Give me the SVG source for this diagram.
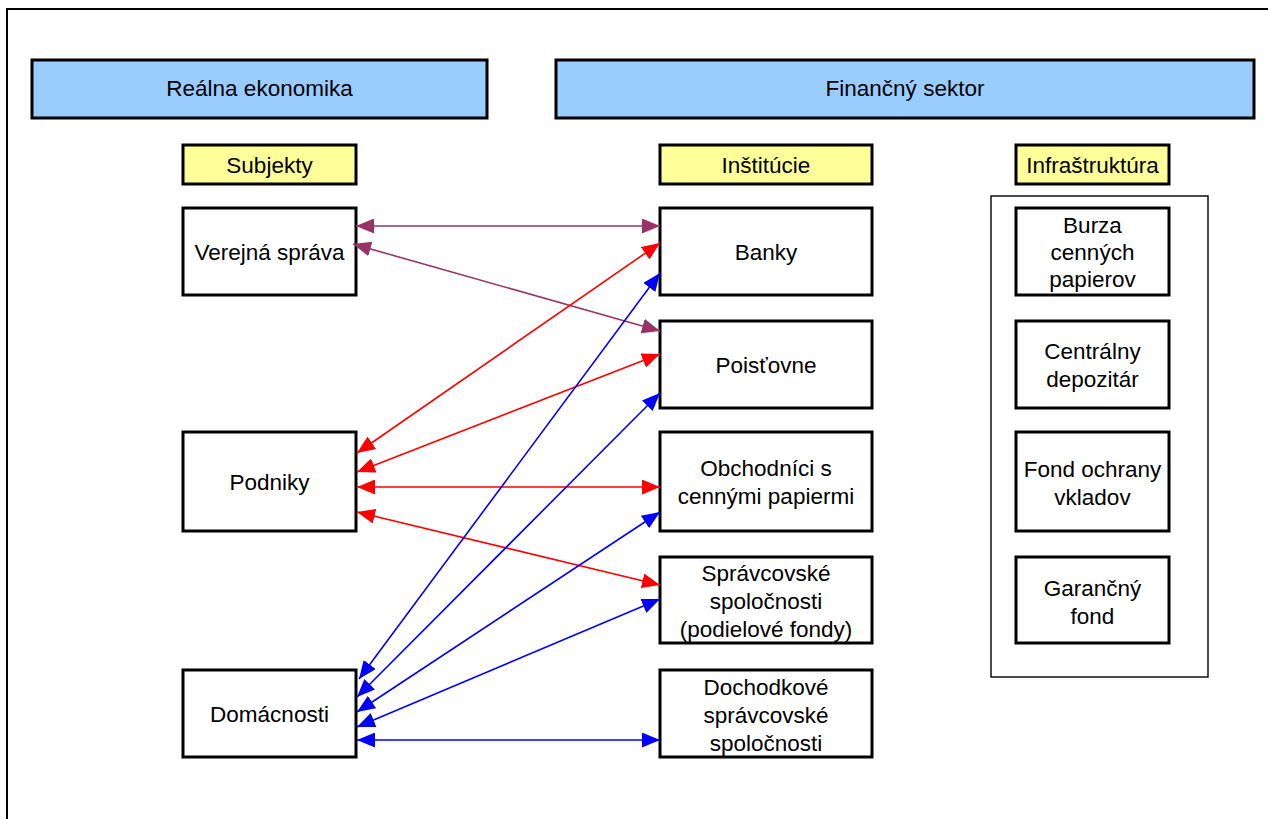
<svg xmlns="http://www.w3.org/2000/svg" width="1268" height="819" viewBox="0 0 1268 819">
  <style>
    text { font-family: "Liberation Sans", Arial, sans-serif; font-size: 22.5px; fill: #000; text-anchor: middle; }
    .frame { fill: none; stroke: #000; stroke-width: 2; }
    .header { fill: #99CCFF; stroke: #000; stroke-width: 3; }
    .tag { fill: #FFFF99; stroke: #000; stroke-width: 3; }
    .box { fill: #fff; stroke: #000; stroke-width: 3; }
    .group { fill: none; stroke: #000; stroke-width: 1.4; }
    .link { fill: none; stroke-width: 1.6; }
    .purple { stroke: #993366; marker-start: url(#headPurple); marker-end: url(#headPurple); }
    .red { stroke: #FF0000; marker-start: url(#headRed); marker-end: url(#headRed); }
    .blue { stroke: #0000FF; marker-start: url(#headBlue); marker-end: url(#headBlue); }
  </style>
  <defs>
    <marker id="headPurple" markerUnits="userSpaceOnUse" markerWidth="18" markerHeight="15" refX="18" refY="7.5" orient="auto-start-reverse">
      <path d="M0,0 L18,7.5 L0,15 Z" fill="#993366"/>
    </marker>
    <marker id="headRed" markerUnits="userSpaceOnUse" markerWidth="18" markerHeight="15" refX="18" refY="7.5" orient="auto-start-reverse">
      <path d="M0,0 L18,7.5 L0,15 Z" fill="#FF0000"/>
    </marker>
    <marker id="headBlue" markerUnits="userSpaceOnUse" markerWidth="18" markerHeight="15" refX="18" refY="7.5" orient="auto-start-reverse">
      <path d="M0,0 L18,7.5 L0,15 Z" fill="#0000FF"/>
    </marker>
  </defs>

  <rect width="1268" height="819" fill="#fff"/>
  <!-- page frame, open towards the right and bottom edges -->
  <rect class="frame" x="7" y="9" width="1290" height="840"/>

  <!-- section headers -->
  <g id="hdr-realna">
    <rect class="header" x="32" y="60" width="455" height="58"/>
    <text x="259.5" y="96">Reálna ekonomika</text>
  </g>
  <g id="hdr-financny">
    <rect class="header" x="556" y="60" width="698" height="58"/>
    <text x="905" y="96">Finančný sektor</text>
  </g>

  <!-- column tags -->
  <g id="tag-subjekty">
    <rect class="tag" x="183" y="145" width="173" height="39"/>
    <text x="269.5" y="173">Subjekty</text>
  </g>
  <g id="tag-institucie">
    <rect class="tag" x="660" y="145" width="212" height="39"/>
    <text x="766" y="173">Inštitúcie</text>
  </g>
  <g id="tag-infra">
    <rect class="tag" x="1016" y="145" width="153" height="39"/>
    <text x="1092.5" y="173">Infraštruktúra</text>
  </g>

  <!-- subjects -->
  <g id="n-verejna">
    <rect class="box" x="183" y="208" width="173" height="87"/>
    <text x="269.5" y="260">Verejná správa</text>
  </g>
  <g id="n-podniky">
    <rect class="box" x="183" y="432" width="173" height="99"/>
    <text x="269.5" y="490">Podniky</text>
  </g>
  <g id="n-domacnosti">
    <rect class="box" x="183" y="670" width="173" height="87"/>
    <text x="269.5" y="722">Domácnosti</text>
  </g>

  <!-- institutions -->
  <g id="n-banky">
    <rect class="box" x="660" y="208" width="212" height="87"/>
    <text x="766" y="260">Banky</text>
  </g>
  <g id="n-poistovne">
    <rect class="box" x="660" y="321" width="212" height="87"/>
    <text x="766" y="373">Poisťovne</text>
  </g>
  <g id="n-obchodnici">
    <rect class="box" x="660" y="432" width="212" height="99"/>
    <text x="766" y="476">Obchodníci s</text>
    <text x="766" y="504">cennými papiermi</text>
  </g>
  <g id="n-spravcovske">
    <rect class="box" x="660" y="557" width="212" height="86"/>
    <text x="766" y="581">Správcovské</text>
    <text x="766" y="609">spoločnosti</text>
    <text x="766" y="637">(podielové fondy)</text>
  </g>
  <g id="n-dochodkove">
    <rect class="box" x="660" y="670" width="212" height="87"/>
    <text x="766" y="695">Dochodkové</text>
    <text x="766" y="723">správcovské</text>
    <text x="766" y="751">spoločnosti</text>
  </g>

  <!-- infrastructure -->
  <g id="n-infra-group">
    <rect class="group" x="991" y="196" width="217" height="481"/>
  </g>
  <g id="n-burza">
    <rect class="box" x="1016" y="208" width="153" height="87"/>
    <text x="1092.5" y="233">Burza</text>
    <text x="1092.5" y="260">cenných</text>
    <text x="1092.5" y="287">papierov</text>
  </g>
  <g id="n-depozitar">
    <rect class="box" x="1016" y="321" width="153" height="87"/>
    <text x="1092.5" y="359">Centrálny</text>
    <text x="1092.5" y="387">depozitár</text>
  </g>
  <g id="n-fond-ochrany">
    <rect class="box" x="1016" y="432" width="153" height="99"/>
    <text x="1092.5" y="477">Fond ochrany</text>
    <text x="1092.5" y="505">vkladov</text>
  </g>
  <g id="n-garancny">
    <rect class="box" x="1016" y="557" width="153" height="86"/>
    <text x="1092.5" y="596">Garančný</text>
    <text x="1092.5" y="624">fond</text>
  </g>

  <!-- connectors -->
  <g id="connectors">
    <line class="link purple" x1="356" y1="226" x2="660" y2="226"/>
    <line class="link purple" x1="353" y1="244" x2="660" y2="331"/>

    <line class="link red" x1="357" y1="453" x2="660" y2="243"/>
    <line class="link red" x1="357" y1="472" x2="660" y2="354"/>
    <line class="link red" x1="357" y1="487" x2="660" y2="487"/>
    <line class="link red" x1="357" y1="512" x2="660" y2="585"/>

    <line class="link blue" x1="359" y1="679" x2="660" y2="273"/>
    <line class="link blue" x1="357" y1="697" x2="660" y2="393"/>
    <line class="link blue" x1="357" y1="712" x2="660" y2="512"/>
    <line class="link blue" x1="357" y1="727" x2="660" y2="599"/>
    <line class="link blue" x1="357" y1="740" x2="660" y2="740"/>
  </g>
</svg>
